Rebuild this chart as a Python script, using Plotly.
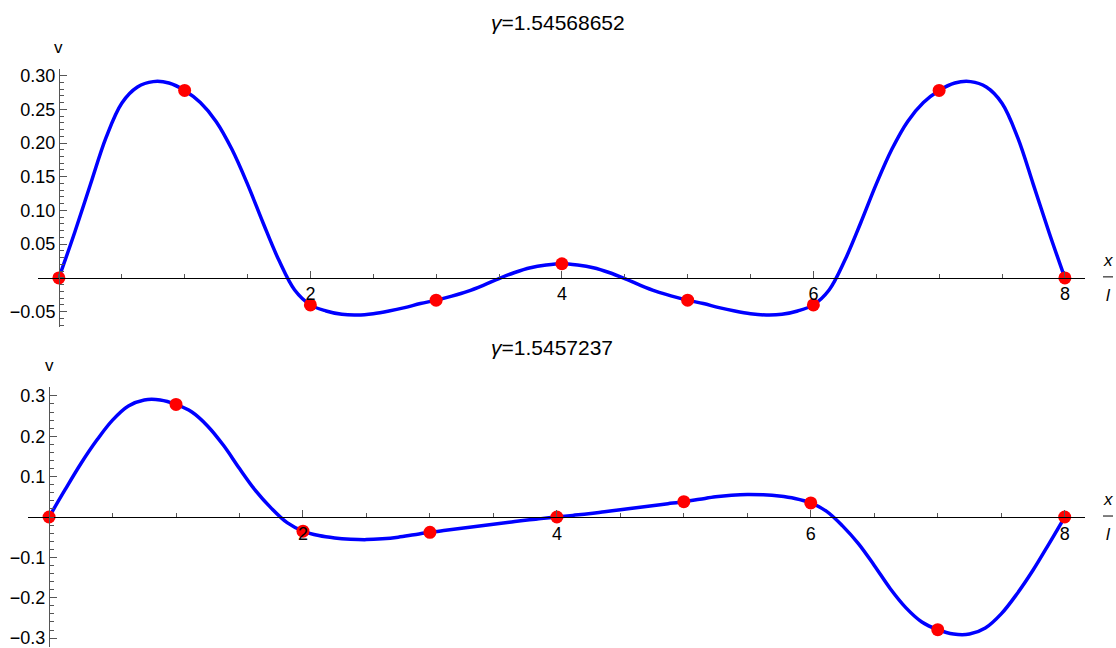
import plotly.graph_objects as go

W, H = 1116, 648

# ---------------- data ----------------
x_curve = [i * 0.125 for i in range(65)]

v_top = [0, 0.067, 0.138, 0.208, 0.259, 0.283, 0.291, 0.289, 0.278, 0.260, 0.232, 0.191, 0.139, 0.081, 0.026, -0.018, -0.040,
         -0.049, -0.054, -0.055, -0.053, -0.049, -0.044, -0.038, -0.033, -0.027, -0.020, -0.011, -0.001, 0.008, 0.015, 0.019, 0.021,
         0.019, 0.015, 0.008, -0.001, -0.011, -0.020, -0.027, -0.033, -0.038, -0.044, -0.049, -0.053, -0.055, -0.054, -0.049, -0.040,
         -0.018, 0.026, 0.081, 0.139, 0.191, 0.232, 0.260, 0.278, 0.289, 0.291, 0.283, 0.259, 0.208, 0.138, 0.067, 0]

v_bot = [0, 0.067, 0.132, 0.190, 0.240, 0.275, 0.290, 0.290, 0.279, 0.260, 0.225, 0.177, 0.120, 0.066, 0.022, -0.014, -0.035,
         -0.046, -0.052, -0.055, -0.056, -0.054, -0.050, -0.044, -0.038, -0.033, -0.028, -0.023, -0.018, -0.013, -0.008, -0.004, 0,
         0.004, 0.008, 0.013, 0.018, 0.023, 0.028, 0.033, 0.038, 0.044, 0.050, 0.054, 0.056, 0.055, 0.052, 0.046, 0.035,
         0.014, -0.022, -0.066, -0.120, -0.177, -0.225, -0.260, -0.279, -0.290, -0.290, -0.275, -0.240, -0.190, -0.132, -0.067, 0]

x_nodes = [0, 1, 2, 3, 4, 5, 6, 7, 8]
v_top_nodes = [0, 0.278, -0.040, -0.033, 0.021, -0.033, -0.040, 0.278, 0]
v_bot_nodes = [0, 0.279, -0.035, -0.038, 0, 0.038, 0.035, -0.279, 0]

title_top = "<i>γ</i>=1.54568652"
title_bot = "<i>γ</i>=1.5457237"

x_ticks = [2, 4, 6, 8]
y_ticks_top = [-0.05, 0.05, 0.10, 0.15, 0.20, 0.25, 0.30]
y_ticks_bot = [-0.3, -0.2, -0.1, 0.1, 0.2, 0.3]

# ---------------- helpers ----------------
def px(x):
    return x / W

def py(y):
    return 1 - y / H

BLUE = "rgb(0,0,255)"
RED = "rgb(255,0,0)"
FONT = "Liberation Sans, Arial, sans-serif"
AX = "#555555"

fig = go.Figure()
fig.add_trace(go.Scatter(x=x_curve, y=v_top, mode="lines", line=dict(color=BLUE, width=3.5, shape="spline"),
                         xaxis="x", yaxis="y", hoverinfo="skip"))
fig.add_trace(go.Scatter(x=x_nodes, y=v_top_nodes, mode="markers", marker=dict(color=RED, size=13),
                         xaxis="x", yaxis="y"))
fig.add_trace(go.Scatter(x=x_curve, y=v_bot, mode="lines", line=dict(color=BLUE, width=3.5, shape="spline"),
                         xaxis="x2", yaxis="y2", hoverinfo="skip"))
fig.add_trace(go.Scatter(x=x_nodes, y=v_bot_nodes, mode="markers", marker=dict(color=RED, size=13),
                         xaxis="x2", yaxis="y2"))

xcommon = dict(range=[-0.166, 8.16], showgrid=False, zeroline=False, showline=True, linecolor="black", linewidth=1,
               tickvals=x_ticks, ticktext=[str(v) for v in x_ticks], ticks="inside", ticklen=7, tickcolor=AX,
               tickfont=dict(family=FONT, size=18, color="black"),
               minor=dict(dtick=0.5, tick0=0, ticks="inside", ticklen=4, tickcolor=AX, showgrid=False))
ycommon = dict(showgrid=False, zeroline=False, showline=True, linecolor=AX, linewidth=1,
               ticks="inside", ticklen=7, tickcolor=AX, ticklabeloverflow="allow",
               tickfont=dict(family=FONT, size=18, color="black"))

fig.update_layout(
    width=W, height=H, margin=dict(l=0, r=0, t=0, b=0),
    paper_bgcolor="white", plot_bgcolor="white", showlegend=False,
    xaxis=dict(**xcommon, domain=[px(38), px(1085)], anchor="free", position=py(276)),
    yaxis=dict(**ycommon, domain=[py(326), py(66)], range=[-0.0735, 0.309], anchor="free", position=px(59),
               tickvals=y_ticks_top, ticktext=[f"{v:.2f}".replace("-", "−") for v in y_ticks_top],
               minor=dict(dtick=0.01, tick0=0, ticks="inside", ticklen=4, tickcolor=AX, showgrid=False)),
    xaxis2=dict(**xcommon, domain=[px(28), px(1085)], anchor="free", position=py(517.3)),
    yaxis2=dict(**ycommon, domain=[py(648), py(386)], range=[-0.322, 0.322], anchor="free", position=px(49),
                tickvals=y_ticks_bot, ticktext=[f"{v:.1f}".replace("-", "−") for v in y_ticks_bot],
                minor=dict(dtick=0.02, tick0=0, ticks="inside", ticklen=4, tickcolor=AX, showgrid=False)),
)

ann = []
tf = dict(family=FONT, size=21, color="black")
lf = dict(family=FONT, size=17, color="black")

def add_ann(text, x, y, font):
    ann.append(dict(text=text, x=px(x), y=py(y), xref="paper", yref="paper", showarrow=False, font=font,
                    xanchor="center", yanchor="middle"))

add_ann(title_top, 558, 19, tf)
add_ann(title_bot, 552, 346, tf)
add_ann("v", 58, 44, lf)
add_ann("v", 49, 364, lf)
for yc in (276, 517):
    add_ann("<i>x</i>", 1108, yc - 18, lf)
    add_ann("<i>l</i>", 1108, yc + 18, lf)
fig.update_layout(annotations=ann)

shapes = []
for yc in (276, 517):
    shapes.append(dict(type="line", xref="paper", yref="paper", x0=px(1103), x1=px(1113), y0=py(yc - 1), y1=py(yc - 1),
                       line=dict(color="black", width=1)))
fig.update_layout(shapes=shapes)

fig.write_html("out.html", config={"displayModeBar": False},
               post_script="document.body.style.margin='0';document.body.style.padding='0';")
